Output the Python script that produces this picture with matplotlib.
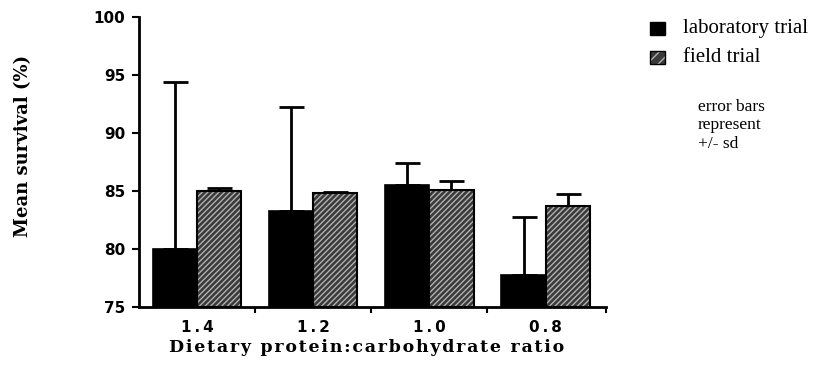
import matplotlib
matplotlib.use("Agg")
import matplotlib.pyplot as plt
from matplotlib.patches import Rectangle
import numpy as np

ratios = ["1.4", "1.2", "1.0", "0.8"]
lab_mean = [80.0, 83.3, 85.5, 77.8]
lab_sd = [14.4, 8.9, 1.9, 5.0]
field_mean = [85.0, 84.8, 85.1, 83.7]
field_sd = [0.3, 0.15, 0.8, 1.0]
yticks = [75, 80, 85, 90, 95, 100]

fig = plt.figure(figsize=(8.2, 3.67), dpi=100)
ax = fig.add_axes([0.1695, 0.1635, 0.739 - 0.1695, 0.9537 - 0.1635])

x = np.arange(len(ratios))
w = 0.38
base = 75
lab_h = [m - base for m in lab_mean]
field_h = [m - base for m in field_mean]

ax.bar(x - w / 2, lab_h, w, bottom=base, color="black", edgecolor="black", linewidth=1.2, zorder=2)
ax.bar(x + w / 2, field_h, w, bottom=base, color="#3a3a3a", edgecolor="#b0b0b0",
       hatch="//////", linewidth=0, zorder=2)
ax.bar(x + w / 2, field_h, w, bottom=base, fill=False, edgecolor="black", linewidth=1.5, zorder=3)

ax.errorbar(x - w / 2, lab_mean, yerr=[np.zeros(len(lab_sd)), lab_sd], fmt="none",
            ecolor="black", elinewidth=2, capsize=9, capthick=2, zorder=1)
ax.errorbar(x + w / 2, field_mean, yerr=[np.zeros(len(field_sd)), field_sd], fmt="none",
            ecolor="black", elinewidth=2, capsize=9, capthick=2, zorder=1)

tick_font = dict(family="DejaVu Sans", fontsize=11, fontweight="bold")
ax.set_ylim(75, 100)
ax.set_xlim(-0.5, 3.52)
ax.set_yticks(yticks)
ax.set_yticklabels([str(t) for t in yticks], **tick_font)
ax.set_xticks([0.5, 1.5, 2.5, 3.52])
ax.set_xticklabels([])
ax.tick_params(axis="x", direction="out", length=4, width=1.5)
ax.tick_params(axis="y", direction="out", length=5, width=1.5, pad=5)
for i, r in enumerate(ratios):
    ax.text(i, -0.045, "\u2009".join(list(r)), transform=ax.get_xaxis_transform(),
            ha="center", va="top", **tick_font)

for s in ["top", "right"]:
    ax.spines[s].set_visible(False)
ax.spines["left"].set_linewidth(2)
ax.spines["bottom"].set_linewidth(2)

ax.set_ylabel("Mean survival (%)", fontsize=13, fontweight="bold", family="DejaVu Serif")
ax.yaxis.set_label_coords(-0.228, 0.555)

xlabel = "\u200a".join(list("Dietary protein:carbohydrate ratio"))
fig.text((170 + 563) / 2 / 820, 1 - 348 / 367, xlabel,
         ha="center", va="center", fontsize=12.5, fontweight="bold", family="DejaVu Serif")

# legend
W, H = 820, 367
fig.patches.append(Rectangle((650 / W, 1 - 35 / H), 15 / W, 13 / H, transform=fig.transFigure,
                             facecolor="black", edgecolor="black"))
fig.patches.append(Rectangle((650 / W, 1 - 64 / H), 15 / W, 13 / H, transform=fig.transFigure,
                             facecolor="#3a3a3a", edgecolor="#b0b0b0", hatch="///", linewidth=0))
fig.patches.append(Rectangle((650 / W, 1 - 64 / H), 15 / W, 13 / H, transform=fig.transFigure,
                             fill=False, edgecolor="black", linewidth=1))
fig.text(683 / W, 1 - 28 / H, "laboratory trial", ha="left", va="center",
         fontsize=15, family="Liberation Serif")
fig.text(683 / W, 1 - 57 / H, "field trial", ha="left", va="center",
         fontsize=15, family="Liberation Serif")

fig.text(698 / W, 1 - 99 / H, "error bars\nrepresent\n+/- sd", ha="left", va="top",
         fontsize=12.5, family="Liberation Serif", linespacing=1.2)

fig.savefig("out.png", dpi=100)
